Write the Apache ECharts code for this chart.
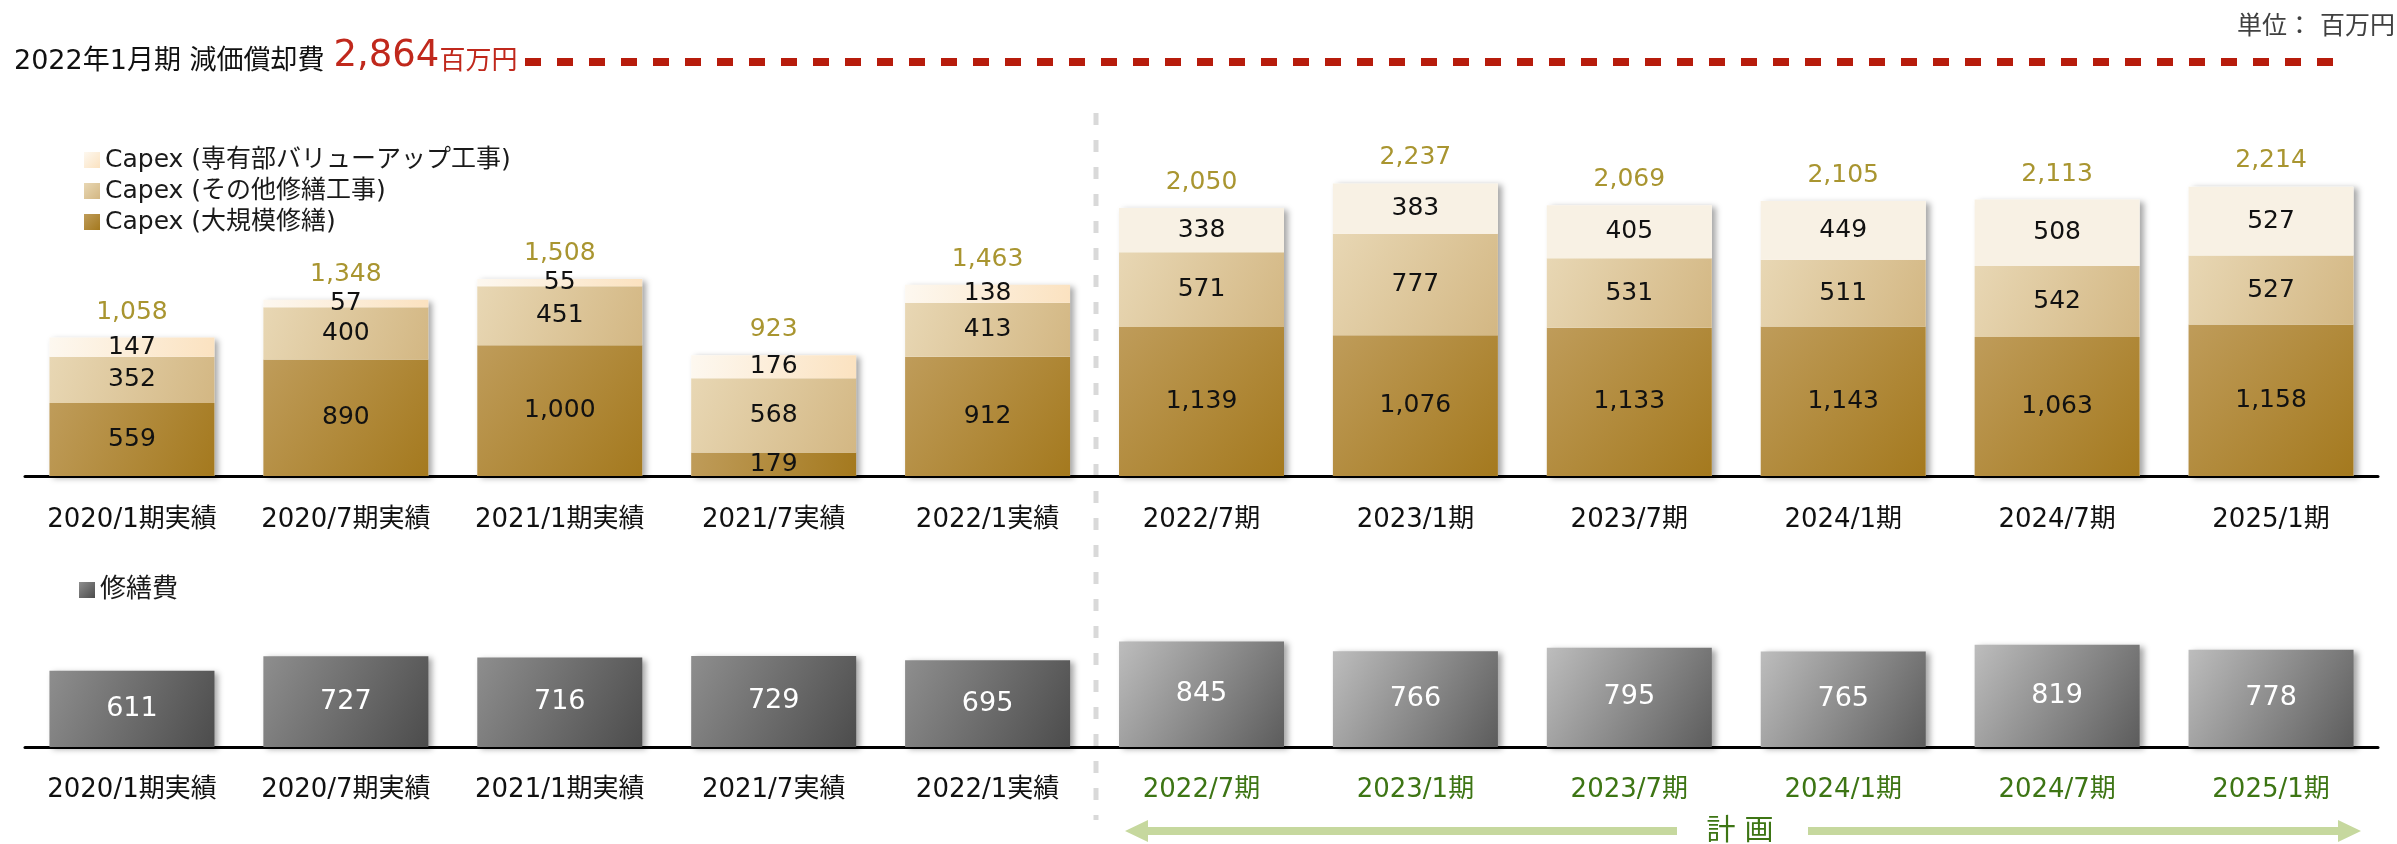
<!DOCTYPE html>
<html>
<head>
<meta charset="utf-8">
<script src="https://cdn.jsdelivr.net/npm/echarts/dist/echarts.min.js"></script>
<style>
  html, body { margin: 0; padding: 0; background: #fff; }
  #main { width: 2397px; height: 844px; }
</style>
</head>
<body>
<div id="main"></div>
<script>
// 期ごとのラベル（前半5つが実績、後半6つが計画）
var categories = ['2020/1期実績', '2020/7期実績', '2021/1期実績', '2021/7実績', '2022/1実績',
                  '2022/7期', '2023/1期', '2023/7期', '2024/1期', '2024/7期', '2025/1期'];
var actualCount = 5;

// Capex 内訳（百万円）
var capexLarge = [559, 890, 1000, 179, 912, 1139, 1076, 1133, 1143, 1063, 1158];   // 大規模修繕
var capexOther = [352, 400, 451, 568, 413, 571, 777, 531, 511, 542, 527];          // その他修繕工事
var capexValueUp = [147, 57, 55, 176, 138, 338, 383, 405, 449, 508, 527];          // 専有部バリューアップ工事
var capexTotal = [1058, 1348, 1508, 923, 1463, 2050, 2237, 2069, 2105, 2113, 2214];

// 修繕費（百万円）
var repairCost = [611, 727, 716, 729, 695, 845, 766, 795, 765, 819, 778];

// 2022年1月期 減価償却費
var depreciation = 2864;

var FONT = '"DejaVu Sans", "Noto Sans CJK JP", sans-serif';

function grad(c1, c2) {
    return { type: 'linear', x: 0, y: 0, x2: 1, y2: 1,
        colorStops: [{ offset: 0, color: c1 }, { offset: 1, color: c2 }] };
}
function fmt(v) { return Number(v).toLocaleString('en-US'); }
function isPlan(cat) { return categories.indexOf(cat) >= actualCount; }

var segLabel = {
    show: true, position: 'inside', color: '#111', fontSize: 25, fontFamily: FONT,
    formatter: function (p) { return fmt(p.value); }
};

var valueUpData = capexValueUp.map(function (v, i) {
    return i < actualCount ? v : { value: v, itemStyle: { color: '#f8f1e4' } };
});

var repairData = repairCost.map(function (v, i) {
    return {
        value: v,
        itemStyle: { color: i < actualCount ? grad('#8e8e8e', '#4c4c4c') : grad('#bdbdbd', '#5c5c5c') }
    };
});

var option = {
    backgroundColor: '#fff',
    animation: false,
    textStyle: { fontFamily: FONT },
    legend: [{
        orient: 'vertical', left: 84, top: 147, padding: 0, itemGap: 5,
        itemWidth: 16, itemHeight: 16, icon: 'rect',
        textStyle: { fontSize: 25, color: '#1a1a1a', fontFamily: FONT, lineHeight: 26 },
        data: ['Capex (専有部バリューアップ工事)', 'Capex (その他修繕工事)', 'Capex (大規模修繕)']
    }, {
        orient: 'vertical', left: 79, top: 576, padding: 0,
        itemWidth: 16, itemHeight: 16, icon: 'rect',
        textStyle: { fontSize: 26, color: '#1a1a1a', fontFamily: FONT, lineHeight: 28 },
        data: ['修繕費']
    }],
    grid: [
        { left: 25, right: 19, top: 149, bottom: 368 },
        { left: 25, right: 19, top: 622, bottom: 97 }
    ],
    xAxis: [{
        type: 'category', gridIndex: 0, data: categories,
        axisLine: { lineStyle: { color: '#000', width: 3 } },
        axisTick: { show: false },
        axisLabel: { interval: 0, margin: 31, fontSize: 26, color: '#111', fontFamily: FONT }
    }, {
        type: 'category', gridIndex: 1, data: categories,
        axisLine: { lineStyle: { color: '#000', width: 3 } },
        axisTick: { show: false },
        axisLabel: {
            interval: 0, margin: 30, fontSize: 26, fontFamily: FONT,
            color: function (value) { return isPlan(value) ? '#3d7514' : '#111'; }
        }
    }],
    yAxis: [
        { type: 'value', gridIndex: 0, min: 0, max: 2500, show: false, splitLine: { show: false } },
        { type: 'value', gridIndex: 1, min: 0, max: 1000, show: false, splitLine: { show: false } }
    ],
    series: [{
        name: 'total', type: 'bar', xAxisIndex: 0, yAxisIndex: 0, z: 1,
        barWidth: 165, barGap: '-100%', data: capexTotal,
        itemStyle: { color: '#fff', shadowColor: 'rgba(0,0,0,0.35)', shadowBlur: 6, shadowOffsetX: 4, shadowOffsetY: 2 },
        label: { show: true, position: 'top', distance: 13, color: '#a99530', fontSize: 25, fontFamily: FONT,
            formatter: function (p) { return fmt(p.value); } }
    }, {
        name: 'Capex (大規模修繕)', type: 'bar', stack: 'capex', xAxisIndex: 0, yAxisIndex: 0, z: 2,
        barWidth: 165, barGap: '-100%', data: capexLarge,
        itemStyle: { color: grad('#bf9c5a', '#a4791e') }, label: segLabel
    }, {
        name: 'Capex (その他修繕工事)', type: 'bar', stack: 'capex', xAxisIndex: 0, yAxisIndex: 0, z: 2,
        barWidth: 165, barGap: '-100%', data: capexOther,
        itemStyle: { color: grad('#e8d7b4', '#d3b783') }, label: segLabel
    }, {
        name: 'Capex (専有部バリューアップ工事)', type: 'bar', stack: 'capex', xAxisIndex: 0, yAxisIndex: 0, z: 2,
        barWidth: 165, barGap: '-100%', data: valueUpData,
        itemStyle: { color: grad('#fdf8f0', '#fbe2c0') }, label: segLabel
    }, {
        name: '修繕費', type: 'bar', xAxisIndex: 1, yAxisIndex: 1,
        barWidth: 165, data: repairData,
        itemStyle: { color: grad('#8e8e8e', '#4c4c4c'), shadowColor: 'rgba(0,0,0,0.35)', shadowBlur: 6, shadowOffsetX: 4, shadowOffsetY: 2 },
        label: { show: true, position: 'inside', color: '#fff', fontSize: 27, fontFamily: FONT,
            formatter: function (p) { return fmt(p.value); } }
    }],
    graphic: [
        // 見出し
        {
            type: 'text', left: 14, top: 38,
            style: {
                text: '{a|2022年1月期 減価償却費}{b|' + fmt(depreciation) + '}{c|百万円}',
                rich: {
                    a: { fontSize: 27, fill: '#111', fontFamily: FONT, verticalAlign: 'bottom', lineHeight: 42 },
                    b: { fontSize: 37, fill: '#c0281c', fontFamily: FONT, verticalAlign: 'bottom', lineHeight: 42, padding: [0, 0, 0, 9] },
                    c: { fontSize: 26, fill: '#c0281c', fontFamily: FONT, verticalAlign: 'bottom', lineHeight: 42 }
                }
            }
        },
        {
            type: 'line', shape: { x1: 525, y1: 62, x2: 2336, y2: 62 },
            style: { stroke: '#b71c0c', lineWidth: 8, lineDash: [16, 16] }
        },
        {
            type: 'text', right: 2, top: 15,
            style: { text: '単位： 百万円', fontSize: 25, fill: '#404040', fontFamily: FONT }
        },
        // 実績 / 計画 の区切り
        {
            type: 'line', shape: { x1: 1096, y1: 113, x2: 1096, y2: 820 },
            style: { stroke: '#d9d9d9', lineWidth: 5, lineDash: [12, 15] }
        },
        // 計画 矢印
        {
            type: 'polygon',
            shape: { points: [[1125, 831], [1148, 820], [1148, 827], [1677, 827], [1677, 835], [1148, 835], [1148, 842]] },
            style: { fill: '#c6d89e' }
        },
        {
            type: 'polygon',
            shape: { points: [[2361, 831], [2338, 820], [2338, 827], [1808, 827], [1808, 835], [2338, 835], [2338, 842]] },
            style: { fill: '#c6d89e' }
        },
        {
            type: 'text', x: 1740, y: 832,
            style: { text: '計 画', fontSize: 29, fill: '#3d7514', fontFamily: FONT, align: 'center', verticalAlign: 'middle' }
        }
    ]
};

var chart = echarts.init(document.getElementById('main'));
chart.setOption(option);
</script>
</body>
</html>
